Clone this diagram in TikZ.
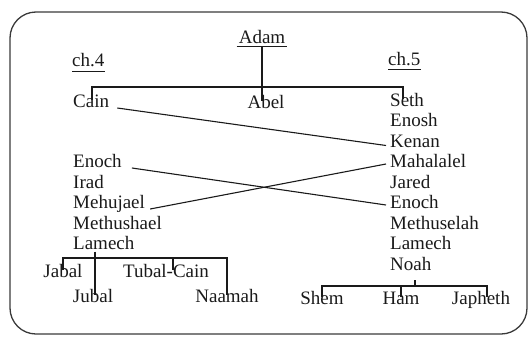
\documentclass[tikz,border=0pt]{standalone}
\usepackage{fontspec}
\setmainfont{Liberation Serif}
\definecolor{ink}{HTML}{1A1A1A}
\definecolor{frame}{HTML}{3A3A3A}
\begin{document}
\begin{tikzpicture}[x=1pt,y=-1pt,
  gname/.style={inner sep=0pt,text height=0.7em,text depth=0.2em,text=ink,
    font=\fontsize{19}{20}\selectfont,yshift=-3pt},
  lname/.style={gname,anchor=west},
  conn/.style={draw=ink,line width=1.1pt},
  uline/.style={draw=ink,line width=1.2pt}]
\useasboundingbox (0,0) rectangle (530,340);
\draw[frame,line width=1.3pt,rounded corners=26pt] (10,12) rectangle (527,334);

% headers
\node[gname] (adam) at (262,38) {Adam};
\node[lname] (ch4) at (72,61) {ch.4};
\node[lname] (ch5) at (388,60) {ch.5};
\draw[uline] ([xshift=-2pt,yshift=-1pt]adam.south west) -- ([xshift=2pt,yshift=-1pt]adam.south east);
\draw[uline] ([yshift=-3pt]ch4.south west) -- ([yshift=-3pt]ch4.south east);
\draw[uline] ([yshift=-2pt]ch5.south west) -- ([yshift=-2pt]ch5.south east);

% first generation
\node[lname] (cain) at (73,102) {Cain};
\node[gname] (abel) at (266,103) {Abel};

% ch.5 column
\node[lname] (seth) at (390,100.5) {Seth};
\node[lname] (enosh) at (390,121) {Enosh};
\node[lname] (kenan) at (390,141.5) {Kenan};
\node[lname] (mahalalel) at (390,162) {Mahalalel};
\node[lname] (jared) at (390,182.5) {Jared};
\node[lname] (enochR) at (390,203) {Enoch};
\node[lname] (methuselah) at (390,223.5) {Methuselah};
\node[lname] (lamechR) at (390,244) {Lamech};
\node[lname] (noah) at (390,264.5) {Noah};

% ch.4 column
\node[lname] (enochL) at (73,162) {Enoch};
\node[lname] (irad) at (73,182.5) {Irad};
\node[lname] (mehujael) at (73,203) {Mehujael};
\node[lname] (methushael) at (73,223.5) {Methushael};
\node[lname] (lamechL) at (73,244) {Lamech};

% Lamech's children
\node[gname] (jabal) at (63,272) {Jabal};
\node[gname] (tubal) at (166,272) {Tubal-Cain};
\node[gname] (jubal) at (93,297) {Jubal};
\node[gname] (naamah) at (227,297) {Naamah};

% Noah's sons
\node[gname] (shem) at (322,299) {Shem};
\node[gname] (ham) at (401,299) {Ham};
\node[gname] (japheth) at (481,299) {Japheth};

% Adam's tree
\coordinate (tickL) at (92,87);
\coordinate (tickR) at (403,87);
\draw[conn] (tickL |- cain.north) -- (tickL) -- (tickR) -- (tickR |- seth.north);
\draw[conn] ([yshift=-1pt]adam.south) -- (adam.south |- abel.north);

% crossing connectors
\draw[conn] ([xshift=8pt,yshift=-3pt]cain.east) -- ([xshift=-4pt,yshift=-1pt]kenan.west);
\draw[conn] ([xshift=10pt,yshift=-3pt]enochL.east) -- ([xshift=-4pt,yshift=1pt]enochR.west);
\draw[conn] ([xshift=5pt,yshift=-3pt]mehujael.east) -- ([xshift=-4pt,yshift=1pt]mahalalel.west);

% Lamech's tree
\coordinate (barL) at (0,258);
\coordinate (tubtick) at (173,0);
\coordinate (lv) at (95,0);
\draw[conn] (jabal.north) -- (jabal.north |- barL) -- (naamah.north |- barL) -- (naamah.north);
\draw[conn] (lv |- lamechL.south) -- (lv |- jubal.north);
\draw[conn] (tubtick |- barL) -- (tubtick |- tubal.north);

% Noah's tree
\coordinate (barN) at (0,286);
\coordinate (nt) at (415,280);
\coordinate (jtick) at (487,0);
\draw[conn] (nt) -- (nt |- barN);
\draw[conn] (shem.north) -- (shem.north |- barN) -- (jtick |- barN) -- (jtick |- japheth.north);
\draw[conn] (ham.north) -- (ham.north |- barN);
\end{tikzpicture}
\end{document}
